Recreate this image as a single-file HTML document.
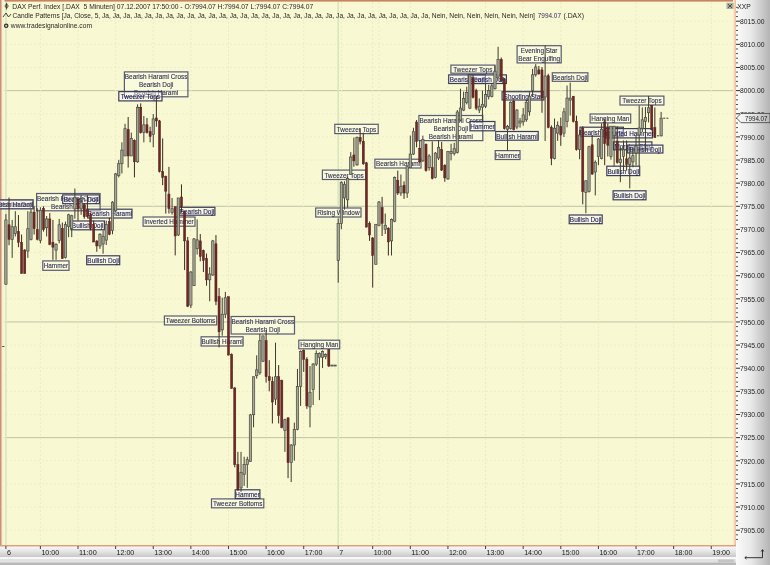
<!DOCTYPE html><html><head><meta charset="utf-8"><style>html,body{margin:0;padding:0;width:770px;height:565px;overflow:hidden;background:#fff}svg{display:block;filter:blur(0.35px)}text{font-family:"Liberation Sans",sans-serif}</style></head><body>
<svg width="770" height="565" viewBox="0 0 770 565">
<defs>
<linearGradient id="gr" x1="0" x2="1" y1="0" y2="0"><stop offset="0" stop-color="#fbfbfb"/><stop offset="0.45" stop-color="#e8e8e8"/><stop offset="1" stop-color="#b4b4b4"/></linearGradient>
<linearGradient id="gb" x1="0" x2="0" y1="0" y2="1"><stop offset="0" stop-color="#fafafa"/><stop offset="0.5" stop-color="#e4e4e4"/><stop offset="1" stop-color="#c8c8c8"/></linearGradient>
<linearGradient id="gbor" x1="0" x2="1" y1="0" y2="0"><stop offset="0" stop-color="#fcf0d8"/><stop offset="1" stop-color="#f0b890"/></linearGradient>
<linearGradient id="glb" x1="0" x2="1" y1="0" y2="0"><stop offset="0" stop-color="#fbe2c8"/><stop offset="1" stop-color="#f8f8d2"/></linearGradient>
</defs>
<rect x="0" y="0" width="770" height="565" fill="#d8d8d8"/>
<rect x="736" y="0" width="34" height="546" fill="url(#gr)"/>
<rect x="0" y="546" width="736" height="11" fill="url(#gb)"/>
<rect x="736" y="546" width="34" height="19" fill="url(#gr)"/>
<rect x="0" y="557" width="736" height="2" fill="#f8f8f8"/>
<rect x="0" y="559" width="736" height="3.7" fill="#e2e2e2"/>
<rect x="718" y="559.5" width="16" height="2.8" fill="#c4c4c4"/>
<rect x="0" y="562.7" width="736" height="2.3" fill="#b8b8b8"/>
<rect x="0" y="0" width="736" height="546" fill="#f8f8d2"/>
<line x1="2" x2="733" y1="530.17" y2="530.17" stroke="#efeecb" stroke-width="1" stroke-dasharray="2,2"/>
<line x1="2" x2="733" y1="507.03" y2="507.03" stroke="#efeecb" stroke-width="1" stroke-dasharray="2,2"/>
<line x1="2" x2="733" y1="483.90" y2="483.90" stroke="#efeecb" stroke-width="1" stroke-dasharray="2,2"/>
<line x1="2" x2="733" y1="460.76" y2="460.76" stroke="#efeecb" stroke-width="1" stroke-dasharray="2,2"/>
<rect x="2" y="437.13" width="731" height="1" fill="#c0c4a4"/>
<line x1="2" x2="733" y1="414.49" y2="414.49" stroke="#efeecb" stroke-width="1" stroke-dasharray="2,2"/>
<line x1="2" x2="733" y1="391.36" y2="391.36" stroke="#efeecb" stroke-width="1" stroke-dasharray="2,2"/>
<line x1="2" x2="733" y1="368.22" y2="368.22" stroke="#efeecb" stroke-width="1" stroke-dasharray="2,2"/>
<line x1="2" x2="733" y1="345.09" y2="345.09" stroke="#efeecb" stroke-width="1" stroke-dasharray="2,2"/>
<rect x="2" y="321.45" width="731" height="1" fill="#c0c4a4"/>
<line x1="2" x2="733" y1="298.82" y2="298.82" stroke="#efeecb" stroke-width="1" stroke-dasharray="2,2"/>
<line x1="2" x2="733" y1="275.69" y2="275.69" stroke="#efeecb" stroke-width="1" stroke-dasharray="2,2"/>
<line x1="2" x2="733" y1="252.55" y2="252.55" stroke="#efeecb" stroke-width="1" stroke-dasharray="2,2"/>
<line x1="2" x2="733" y1="229.41" y2="229.41" stroke="#efeecb" stroke-width="1" stroke-dasharray="2,2"/>
<rect x="2" y="205.78" width="731" height="1" fill="#c0c4a4"/>
<line x1="2" x2="733" y1="183.14" y2="183.14" stroke="#efeecb" stroke-width="1" stroke-dasharray="2,2"/>
<line x1="2" x2="733" y1="160.01" y2="160.01" stroke="#efeecb" stroke-width="1" stroke-dasharray="2,2"/>
<line x1="2" x2="733" y1="136.88" y2="136.88" stroke="#efeecb" stroke-width="1" stroke-dasharray="2,2"/>
<line x1="2" x2="733" y1="113.74" y2="113.74" stroke="#efeecb" stroke-width="1" stroke-dasharray="2,2"/>
<rect x="2" y="90.11" width="731" height="1" fill="#c0c4a4"/>
<line x1="2" x2="733" y1="67.47" y2="67.47" stroke="#efeecb" stroke-width="1" stroke-dasharray="2,2"/>
<line x1="2" x2="733" y1="44.33" y2="44.33" stroke="#efeecb" stroke-width="1" stroke-dasharray="2,2"/>
<line x1="2" x2="733" y1="21.20" y2="21.20" stroke="#efeecb" stroke-width="1" stroke-dasharray="2,2"/>
<line x1="40.38" x2="40.38" y1="2" y2="545" stroke="#ecebc4" stroke-width="1" stroke-dasharray="2,2"/>
<line x1="78.00" x2="78.00" y1="2" y2="545" stroke="#ecebc4" stroke-width="1" stroke-dasharray="2,2"/>
<line x1="115.62" x2="115.62" y1="2" y2="545" stroke="#ecebc4" stroke-width="1" stroke-dasharray="2,2"/>
<line x1="153.25" x2="153.25" y1="2" y2="545" stroke="#ecebc4" stroke-width="1" stroke-dasharray="2,2"/>
<line x1="190.86" x2="190.86" y1="2" y2="545" stroke="#ecebc4" stroke-width="1" stroke-dasharray="2,2"/>
<line x1="228.48" x2="228.48" y1="2" y2="545" stroke="#ecebc4" stroke-width="1" stroke-dasharray="2,2"/>
<line x1="266.10" x2="266.10" y1="2" y2="545" stroke="#ecebc4" stroke-width="1" stroke-dasharray="2,2"/>
<line x1="303.72" x2="303.72" y1="2" y2="545" stroke="#ecebc4" stroke-width="1" stroke-dasharray="2,2"/>
<line x1="341.34" x2="341.34" y1="2" y2="545" stroke="#ecebc4" stroke-width="1" stroke-dasharray="2,2"/>
<line x1="378.96" x2="378.96" y1="2" y2="545" stroke="#ecebc4" stroke-width="1" stroke-dasharray="2,2"/>
<line x1="372.69" x2="372.69" y1="2" y2="545" stroke="#ecebc4" stroke-width="1" stroke-dasharray="2,2"/>
<line x1="410.31" x2="410.31" y1="2" y2="545" stroke="#ecebc4" stroke-width="1" stroke-dasharray="2,2"/>
<line x1="447.93" x2="447.93" y1="2" y2="545" stroke="#ecebc4" stroke-width="1" stroke-dasharray="2,2"/>
<line x1="485.55" x2="485.55" y1="2" y2="545" stroke="#ecebc4" stroke-width="1" stroke-dasharray="2,2"/>
<line x1="523.17" x2="523.17" y1="2" y2="545" stroke="#ecebc4" stroke-width="1" stroke-dasharray="2,2"/>
<line x1="560.79" x2="560.79" y1="2" y2="545" stroke="#ecebc4" stroke-width="1" stroke-dasharray="2,2"/>
<line x1="598.41" x2="598.41" y1="2" y2="545" stroke="#ecebc4" stroke-width="1" stroke-dasharray="2,2"/>
<line x1="636.03" x2="636.03" y1="2" y2="545" stroke="#ecebc4" stroke-width="1" stroke-dasharray="2,2"/>
<line x1="673.65" x2="673.65" y1="2" y2="545" stroke="#ecebc4" stroke-width="1" stroke-dasharray="2,2"/>
<line x1="711.27" x2="711.27" y1="2" y2="545" stroke="#ecebc4" stroke-width="1" stroke-dasharray="2,2"/>
<rect x="5.10" y="2" width="1.6" height="543" fill="#dce4c0"/>
<rect x="337.41" y="2" width="1.6" height="543" fill="#dce4c0"/>
<rect x="0" y="0" width="736" height="1.6" fill="#c88462"/>
<rect x="0" y="0" width="4.5" height="546" fill="url(#glb)"/>
<rect x="0" y="0" width="1.5" height="546" fill="#c8927a"/>
<rect x="2" y="346" width="2.5" height="1" fill="#606040"/>
<rect x="733" y="0" width="3" height="546" fill="url(#gbor)"/>
<rect x="0" y="545" width="736" height="1.5" fill="#e0a080"/>
<rect x="-2.90" y="199.90" width="35.90" height="8.80" fill="rgba(246,246,255,0.4)" stroke="#3c3c5c" stroke-width="1.2"/>
<text x="15.05" y="207.10" font-size="7.6" fill="#1c1c50" text-anchor="middle" textLength="34.50" lengthAdjust="spacingAndGlyphs" stroke="#1c1c50" stroke-width="0.12">Bearish Doji</text>
<rect x="-10.80" y="199.90" width="43.80" height="8.80" fill="rgba(255,255,250,0.3)" stroke="#5a5a72" stroke-width="1.2"/>
<text x="11.10" y="207.10" font-size="7.6" fill="#303050" text-anchor="middle" textLength="44.10" lengthAdjust="spacingAndGlyphs" stroke="#303050" stroke-width="0.12">Bearish Harami</text>
<rect x="36.60" y="193.50" width="63.50" height="17.30" fill="rgba(255,255,250,0.3)" stroke="#5a5a72" stroke-width="1.2"/>
<text x="68.35" y="200.83" font-size="7.6" fill="#303050" text-anchor="middle" textLength="62.59" lengthAdjust="spacingAndGlyphs" stroke="#303050" stroke-width="0.12">Bearish Harami Cross</text>
<text x="68.35" y="209.08" font-size="7.6" fill="#303050" text-anchor="middle" textLength="34.50" lengthAdjust="spacingAndGlyphs" stroke="#303050" stroke-width="0.12">Bearish Doji</text>
<rect x="62.70" y="194.90" width="36.70" height="8.80" fill="rgba(246,246,255,0.4)" stroke="#3c3c5c" stroke-width="1.2"/>
<text x="81.05" y="202.10" font-size="7.6" fill="#1c1c50" text-anchor="middle" textLength="34.50" lengthAdjust="spacingAndGlyphs" stroke="#1c1c50" stroke-width="0.12">Bearish Doji</text>
<rect x="87.70" y="209.20" width="44.30" height="8.80" fill="rgba(246,246,255,0.4)" stroke="#3c3c5c" stroke-width="1.2"/>
<text x="109.85" y="216.40" font-size="7.6" fill="#1c1c50" text-anchor="middle" textLength="44.10" lengthAdjust="spacingAndGlyphs" stroke="#1c1c50" stroke-width="0.12">Bearish Harami</text>
<rect x="71.00" y="221.00" width="33.40" height="8.80" fill="rgba(246,246,255,0.4)" stroke="#3c3c5c" stroke-width="1.2"/>
<text x="87.70" y="228.20" font-size="7.6" fill="#1c1c50" text-anchor="middle" textLength="31.66" lengthAdjust="spacingAndGlyphs" stroke="#1c1c50" stroke-width="0.12">Bullish Doji</text>
<rect x="42.80" y="260.90" width="26.20" height="9.40" fill="rgba(255,255,250,0.3)" stroke="#5a5a72" stroke-width="1.2"/>
<text x="55.90" y="268.40" font-size="7.6" fill="#303050" text-anchor="middle" textLength="24.53" lengthAdjust="spacingAndGlyphs" stroke="#303050" stroke-width="0.12">Hammer</text>
<rect x="86.70" y="255.80" width="33.00" height="8.90" fill="rgba(246,246,255,0.4)" stroke="#3c3c5c" stroke-width="1.2"/>
<text x="103.20" y="263.05" font-size="7.6" fill="#1c1c50" text-anchor="middle" textLength="31.66" lengthAdjust="spacingAndGlyphs" stroke="#1c1c50" stroke-width="0.12">Bullish Doji</text>
<rect x="124.40" y="71.90" width="63.50" height="24.90" fill="rgba(255,255,250,0.3)" stroke="#5a5a72" stroke-width="1.2"/>
<text x="156.15" y="79.12" font-size="7.6" fill="#303050" text-anchor="middle" textLength="62.59" lengthAdjust="spacingAndGlyphs" stroke="#303050" stroke-width="0.12">Bearish Harami Cross</text>
<text x="156.15" y="87.15" font-size="7.6" fill="#303050" text-anchor="middle" textLength="34.50" lengthAdjust="spacingAndGlyphs" stroke="#303050" stroke-width="0.12">Bearish Doji</text>
<text x="156.15" y="95.18" font-size="7.6" fill="#303050" text-anchor="middle" textLength="44.10" lengthAdjust="spacingAndGlyphs" stroke="#303050" stroke-width="0.12">Bearish Harami</text>
<rect x="118.80" y="91.60" width="43.20" height="9.30" fill="rgba(246,246,255,0.4)" stroke="#3c3c5c" stroke-width="1.2"/>
<text x="140.40" y="99.05" font-size="7.6" fill="#1c1c50" text-anchor="middle" textLength="39.37" lengthAdjust="spacingAndGlyphs" stroke="#1c1c50" stroke-width="0.12">Tweezer Tops</text>
<rect x="143.10" y="217.00" width="51.90" height="9.20" fill="rgba(255,255,250,0.3)" stroke="#5a5a72" stroke-width="1.2"/>
<text x="169.05" y="224.40" font-size="7.6" fill="#303050" text-anchor="middle" textLength="49.43" lengthAdjust="spacingAndGlyphs" stroke="#303050" stroke-width="0.12">Inverted Hammer</text>
<rect x="179.10" y="207.30" width="35.80" height="7.90" fill="rgba(246,246,255,0.4)" stroke="#3c3c5c" stroke-width="1.2"/>
<text x="197.00" y="214.05" font-size="7.6" fill="#1c1c50" text-anchor="middle" textLength="34.50" lengthAdjust="spacingAndGlyphs" stroke="#1c1c50" stroke-width="0.12">Bearish Doji</text>
<rect x="164.40" y="316.00" width="52.30" height="8.90" fill="rgba(255,255,250,0.3)" stroke="#5a5a72" stroke-width="1.2"/>
<text x="190.55" y="323.25" font-size="7.6" fill="#303050" text-anchor="middle" textLength="49.44" lengthAdjust="spacingAndGlyphs" stroke="#303050" stroke-width="0.12">Tweezer Bottoms</text>
<rect x="201.10" y="336.80" width="42.00" height="9.20" fill="rgba(255,255,250,0.3)" stroke="#5a5a72" stroke-width="1.2"/>
<text x="222.10" y="344.20" font-size="7.6" fill="#303050" text-anchor="middle" textLength="41.26" lengthAdjust="spacingAndGlyphs" stroke="#303050" stroke-width="0.12">Bullish Harami</text>
<rect x="231.10" y="316.50" width="63.40" height="17.50" fill="rgba(255,255,250,0.3)" stroke="#5a5a72" stroke-width="1.2"/>
<text x="262.80" y="323.88" font-size="7.6" fill="#303050" text-anchor="middle" textLength="62.59" lengthAdjust="spacingAndGlyphs" stroke="#303050" stroke-width="0.12">Bearish Harami Cross</text>
<text x="262.80" y="332.23" font-size="7.6" fill="#303050" text-anchor="middle" textLength="34.50" lengthAdjust="spacingAndGlyphs" stroke="#303050" stroke-width="0.12">Bearish Doji</text>
<rect x="298.80" y="340.20" width="40.90" height="8.60" fill="rgba(255,255,250,0.3)" stroke="#5a5a72" stroke-width="1.2"/>
<text x="319.25" y="347.30" font-size="7.6" fill="#303050" text-anchor="middle" textLength="38.07" lengthAdjust="spacingAndGlyphs" stroke="#303050" stroke-width="0.12">Hanging Man</text>
<rect x="211.50" y="498.90" width="52.30" height="8.90" fill="rgba(255,255,250,0.3)" stroke="#5a5a72" stroke-width="1.2"/>
<text x="237.65" y="506.15" font-size="7.6" fill="#303050" text-anchor="middle" textLength="49.44" lengthAdjust="spacingAndGlyphs" stroke="#303050" stroke-width="0.12">Tweezer Bottoms</text>
<rect x="235.20" y="489.80" width="24.70" height="8.70" fill="rgba(246,246,255,0.4)" stroke="#3c3c5c" stroke-width="1.2"/>
<text x="247.55" y="496.95" font-size="7.6" fill="#1c1c50" text-anchor="middle" textLength="24.53" lengthAdjust="spacingAndGlyphs" stroke="#1c1c50" stroke-width="0.12">Hammer</text>
<rect x="334.80" y="124.30" width="43.40" height="9.30" fill="rgba(255,255,250,0.3)" stroke="#5a5a72" stroke-width="1.2"/>
<text x="356.50" y="131.75" font-size="7.6" fill="#303050" text-anchor="middle" textLength="39.37" lengthAdjust="spacingAndGlyphs" stroke="#303050" stroke-width="0.12">Tweezer Tops</text>
<rect x="322.40" y="170.10" width="43.50" height="9.40" fill="rgba(255,255,250,0.3)" stroke="#5a5a72" stroke-width="1.2"/>
<text x="344.15" y="177.60" font-size="7.6" fill="#303050" text-anchor="middle" textLength="39.37" lengthAdjust="spacingAndGlyphs" stroke="#303050" stroke-width="0.12">Tweezer Tops</text>
<rect x="315.70" y="208.00" width="45.30" height="9.00" fill="rgba(255,255,250,0.3)" stroke="#5a5a72" stroke-width="1.2"/>
<text x="338.35" y="215.30" font-size="7.6" fill="#303050" text-anchor="middle" textLength="42.32" lengthAdjust="spacingAndGlyphs" stroke="#303050" stroke-width="0.12">Rising Window</text>
<rect x="374.90" y="159.20" width="46.10" height="8.80" fill="rgba(255,255,250,0.3)" stroke="#5a5a72" stroke-width="1.2"/>
<text x="397.95" y="166.40" font-size="7.6" fill="#303050" text-anchor="middle" textLength="44.10" lengthAdjust="spacingAndGlyphs" stroke="#303050" stroke-width="0.12">Bearish Harami</text>
<rect x="418.90" y="115.50" width="63.90" height="25.10" fill="rgba(255,255,250,0.3)" stroke="#5a5a72" stroke-width="1.2"/>
<text x="450.85" y="122.75" font-size="7.6" fill="#303050" text-anchor="middle" textLength="62.59" lengthAdjust="spacingAndGlyphs" stroke="#303050" stroke-width="0.12">Bearish Harami Cross</text>
<text x="450.85" y="130.85" font-size="7.6" fill="#303050" text-anchor="middle" textLength="34.50" lengthAdjust="spacingAndGlyphs" stroke="#303050" stroke-width="0.12">Bearish Doji</text>
<text x="450.85" y="138.95" font-size="7.6" fill="#303050" text-anchor="middle" textLength="44.10" lengthAdjust="spacingAndGlyphs" stroke="#303050" stroke-width="0.12">Bearish Harami</text>
<rect x="470.00" y="121.50" width="24.90" height="9.30" fill="rgba(246,246,255,0.4)" stroke="#3c3c5c" stroke-width="1.2"/>
<text x="482.45" y="128.95" font-size="7.6" fill="#1c1c50" text-anchor="middle" textLength="24.53" lengthAdjust="spacingAndGlyphs" stroke="#1c1c50" stroke-width="0.12">Hammer</text>
<rect x="450.90" y="65.10" width="44.00" height="8.10" fill="rgba(255,255,250,0.3)" stroke="#5a5a72" stroke-width="1.2"/>
<text x="472.90" y="71.95" font-size="7.6" fill="#303050" text-anchor="middle" textLength="39.37" lengthAdjust="spacingAndGlyphs" stroke="#303050" stroke-width="0.12">Tweezer Tops</text>
<rect x="448.70" y="74.90" width="36.70" height="8.60" fill="rgba(246,246,255,0.4)" stroke="#3c3c5c" stroke-width="1.2"/>
<text x="467.05" y="82.00" font-size="7.6" fill="#1c1c50" text-anchor="middle" textLength="34.50" lengthAdjust="spacingAndGlyphs" stroke="#1c1c50" stroke-width="0.12">Bearish Doji</text>
<rect x="468.20" y="74.90" width="38.20" height="8.60" fill="rgba(246,246,255,0.4)" stroke="#3c3c5c" stroke-width="1.2"/>
<text x="487.30" y="82.00" font-size="7.6" fill="#1c1c50" text-anchor="middle" textLength="34.50" lengthAdjust="spacingAndGlyphs" stroke="#1c1c50" stroke-width="0.12">Bearish Doji</text>
<rect x="517.10" y="45.70" width="44.10" height="17.20" fill="rgba(255,255,250,0.3)" stroke="#5a5a72" stroke-width="1.2"/>
<text x="539.15" y="53.00" font-size="7.6" fill="#303050" text-anchor="middle" textLength="36.64" lengthAdjust="spacingAndGlyphs" stroke="#303050" stroke-width="0.12">Evening Star</text>
<text x="539.15" y="61.20" font-size="7.6" fill="#303050" text-anchor="middle" textLength="41.98" lengthAdjust="spacingAndGlyphs" stroke="#303050" stroke-width="0.12">Bear Engulfing</text>
<rect x="552.30" y="72.80" width="35.60" height="8.50" fill="rgba(255,255,250,0.3)" stroke="#5a5a72" stroke-width="1.2"/>
<text x="570.10" y="79.85" font-size="7.6" fill="#303050" text-anchor="middle" textLength="34.50" lengthAdjust="spacingAndGlyphs" stroke="#303050" stroke-width="0.12">Bearish Doji</text>
<rect x="502.10" y="91.70" width="41.80" height="8.30" fill="rgba(246,246,255,0.4)" stroke="#3c3c5c" stroke-width="1.2"/>
<text x="523.00" y="98.65" font-size="7.6" fill="#1c1c50" text-anchor="middle" textLength="38.78" lengthAdjust="spacingAndGlyphs" stroke="#1c1c50" stroke-width="0.12">Shooting Star</text>
<rect x="495.70" y="131.50" width="42.50" height="8.70" fill="rgba(246,246,255,0.4)" stroke="#3c3c5c" stroke-width="1.2"/>
<text x="516.95" y="138.65" font-size="7.6" fill="#1c1c50" text-anchor="middle" textLength="41.26" lengthAdjust="spacingAndGlyphs" stroke="#1c1c50" stroke-width="0.12">Bullish Harami</text>
<rect x="495.20" y="150.60" width="24.80" height="8.90" fill="rgba(255,255,250,0.3)" stroke="#5a5a72" stroke-width="1.2"/>
<text x="507.60" y="157.85" font-size="7.6" fill="#303050" text-anchor="middle" textLength="24.53" lengthAdjust="spacingAndGlyphs" stroke="#303050" stroke-width="0.12">Hammer</text>
<rect x="620.00" y="96.10" width="43.90" height="8.90" fill="rgba(255,255,250,0.3)" stroke="#5a5a72" stroke-width="1.2"/>
<text x="641.95" y="103.35" font-size="7.6" fill="#303050" text-anchor="middle" textLength="39.37" lengthAdjust="spacingAndGlyphs" stroke="#303050" stroke-width="0.12">Tweezer Tops</text>
<rect x="590.10" y="114.00" width="40.60" height="8.90" fill="rgba(255,255,250,0.3)" stroke="#5a5a72" stroke-width="1.2"/>
<text x="610.40" y="121.25" font-size="7.6" fill="#303050" text-anchor="middle" textLength="38.07" lengthAdjust="spacingAndGlyphs" stroke="#303050" stroke-width="0.12">Hanging Man</text>
<rect x="580.00" y="127.20" width="43.40" height="9.00" fill="rgba(246,246,255,0.4)" stroke="#3c3c5c" stroke-width="1.2"/>
<text x="601.70" y="134.50" font-size="7.6" fill="#1c1c50" text-anchor="middle" textLength="44.10" lengthAdjust="spacingAndGlyphs" stroke="#1c1c50" stroke-width="0.12">Bearish Harami</text>
<rect x="605.60" y="128.60" width="46.80" height="9.30" fill="rgba(246,246,255,0.4)" stroke="#3c3c5c" stroke-width="1.2"/>
<text x="629.00" y="136.05" font-size="7.6" fill="#1c1c50" text-anchor="middle" textLength="49.43" lengthAdjust="spacingAndGlyphs" stroke="#1c1c50" stroke-width="0.12">Inverted Hammer</text>
<rect x="613.50" y="141.90" width="38.40" height="7.90" fill="rgba(246,246,255,0.4)" stroke="#3c3c5c" stroke-width="1.2"/>
<text x="632.70" y="148.65" font-size="7.6" fill="#1c1c50" text-anchor="middle" textLength="36.63" lengthAdjust="spacingAndGlyphs" stroke="#1c1c50" stroke-width="0.12">Morning Star</text>
<rect x="627.70" y="145.10" width="35.20" height="7.90" fill="rgba(246,246,255,0.4)" stroke="#3c3c5c" stroke-width="1.2"/>
<text x="645.30" y="151.85" font-size="7.6" fill="#1c1c50" text-anchor="middle" textLength="31.66" lengthAdjust="spacingAndGlyphs" stroke="#1c1c50" stroke-width="0.12">Bullish Doji</text>
<rect x="606.80" y="166.20" width="32.90" height="9.40" fill="rgba(246,246,255,0.4)" stroke="#3c3c5c" stroke-width="1.2"/>
<text x="623.25" y="173.70" font-size="7.6" fill="#1c1c50" text-anchor="middle" textLength="31.66" lengthAdjust="spacingAndGlyphs" stroke="#1c1c50" stroke-width="0.12">Bullish Doji</text>
<rect x="613.10" y="190.80" width="32.90" height="9.00" fill="rgba(246,246,255,0.4)" stroke="#3c3c5c" stroke-width="1.2"/>
<text x="629.55" y="198.10" font-size="7.6" fill="#1c1c50" text-anchor="middle" textLength="31.66" lengthAdjust="spacingAndGlyphs" stroke="#1c1c50" stroke-width="0.12">Bullish Doji</text>
<rect x="569.20" y="215.00" width="33.00" height="8.70" fill="rgba(246,246,255,0.4)" stroke="#3c3c5c" stroke-width="1.2"/>
<text x="585.70" y="222.15" font-size="7.6" fill="#1c1c50" text-anchor="middle" textLength="31.66" lengthAdjust="spacingAndGlyphs" stroke="#1c1c50" stroke-width="0.12">Bullish Doji</text>
<rect x="5.40" y="214.07" width="1" height="70.68" fill="#3e3e32"/>
<rect x="4.75" y="219.91" width="2.3" height="64.25" fill="#a6a896" stroke="#4a4a40" stroke-width="0.7"/>
<rect x="8.54" y="197.52" width="1" height="47.70" fill="#3e2a24"/>
<rect x="7.99" y="224.78" width="2.1" height="14.60" fill="#702824" stroke="#52221e" stroke-width="0.5"/>
<rect x="11.67" y="219.91" width="1" height="37.97" fill="#3e3e32"/>
<rect x="11.02" y="226.73" width="2.3" height="12.66" fill="#a6a896" stroke="#4a4a40" stroke-width="0.7"/>
<rect x="14.80" y="211.15" width="1" height="25.31" fill="#3e3e32"/>
<rect x="14.15" y="226.73" width="2.3" height="6.81" fill="#a6a896" stroke="#4a4a40" stroke-width="0.7"/>
<rect x="17.94" y="215.05" width="1" height="32.13" fill="#3e2a24"/>
<rect x="17.39" y="231.60" width="2.1" height="10.71" fill="#702824" stroke="#52221e" stroke-width="0.5"/>
<rect x="21.07" y="234.52" width="1" height="38.94" fill="#3e2a24"/>
<rect x="20.52" y="242.31" width="2.1" height="31.15" fill="#702824" stroke="#52221e" stroke-width="0.5"/>
<rect x="24.21" y="249.12" width="1" height="24.34" fill="#3e2a24"/>
<rect x="23.66" y="250.09" width="2.1" height="23.36" fill="#702824" stroke="#52221e" stroke-width="0.5"/>
<rect x="27.34" y="211.15" width="1" height="46.73" fill="#3e3e32"/>
<rect x="26.70" y="228.68" width="2.3" height="22.39" fill="#a6a896" stroke="#4a4a40" stroke-width="0.7"/>
<rect x="30.48" y="209.21" width="1" height="31.15" fill="#3e3e32"/>
<rect x="29.83" y="212.13" width="2.3" height="27.26" fill="#a6a896" stroke="#4a4a40" stroke-width="0.7"/>
<rect x="33.61" y="206.29" width="1" height="28.23" fill="#3e2a24"/>
<rect x="33.06" y="212.13" width="2.1" height="16.55" fill="#702824" stroke="#52221e" stroke-width="0.5"/>
<rect x="36.75" y="208.23" width="1" height="32.13" fill="#3e2a24"/>
<rect x="36.20" y="229.65" width="2.1" height="9.74" fill="#702824" stroke="#52221e" stroke-width="0.5"/>
<rect x="39.88" y="207.26" width="1" height="36.02" fill="#3e3e32"/>
<rect x="39.23" y="210.18" width="2.3" height="30.18" fill="#a6a896" stroke="#4a4a40" stroke-width="0.7"/>
<rect x="43.02" y="206.29" width="1" height="25.31" fill="#3e2a24"/>
<rect x="42.47" y="208.23" width="2.1" height="21.42" fill="#702824" stroke="#52221e" stroke-width="0.5"/>
<rect x="46.15" y="216.02" width="1" height="20.44" fill="#3e3e32"/>
<rect x="45.50" y="218.94" width="2.3" height="8.76" fill="#a6a896" stroke="#4a4a40" stroke-width="0.7"/>
<rect x="49.29" y="213.10" width="1" height="32.13" fill="#3e2a24"/>
<rect x="48.74" y="218.94" width="2.1" height="25.31" fill="#702824" stroke="#52221e" stroke-width="0.5"/>
<rect x="52.42" y="219.91" width="1" height="39.91" fill="#3e2a24"/>
<rect x="51.88" y="242.31" width="2.1" height="4.87" fill="#702824" stroke="#52221e" stroke-width="0.5"/>
<rect x="55.56" y="243.28" width="1" height="16.55" fill="#3e3e32"/>
<rect x="54.91" y="244.25" width="2.3" height="5.84" fill="#a6a896" stroke="#4a4a40" stroke-width="0.7"/>
<rect x="58.69" y="218.94" width="1" height="24.34" fill="#3e3e32"/>
<rect x="58.04" y="224.78" width="2.3" height="15.58" fill="#a6a896" stroke="#4a4a40" stroke-width="0.7"/>
<rect x="61.83" y="222.57" width="1" height="36.02" fill="#3e2a24"/>
<rect x="61.28" y="228.41" width="2.1" height="30.18" fill="#702824" stroke="#52221e" stroke-width="0.5"/>
<rect x="64.97" y="221.60" width="1" height="36.99" fill="#3e3e32"/>
<rect x="64.31" y="224.52" width="2.3" height="33.10" fill="#a6a896" stroke="#4a4a40" stroke-width="0.7"/>
<rect x="68.10" y="213.81" width="1" height="23.36" fill="#3e3e32"/>
<rect x="67.45" y="214.78" width="2.3" height="11.68" fill="#a6a896" stroke="#4a4a40" stroke-width="0.7"/>
<rect x="71.23" y="214.78" width="1" height="22.39" fill="#3e3e32"/>
<rect x="70.58" y="215.76" width="2.3" height="12.66" fill="#a6a896" stroke="#4a4a40" stroke-width="0.7"/>
<rect x="74.37" y="188.50" width="1" height="30.18" fill="#3e3e32"/>
<rect x="73.72" y="197.26" width="2.3" height="11.68" fill="#a6a896" stroke="#4a4a40" stroke-width="0.7"/>
<rect x="77.50" y="198.23" width="1" height="22.39" fill="#3e2a24"/>
<rect x="76.95" y="199.21" width="2.1" height="9.74" fill="#702824" stroke="#52221e" stroke-width="0.5"/>
<rect x="80.64" y="195.31" width="1" height="19.47" fill="#3e3e32"/>
<rect x="79.99" y="202.13" width="2.3" height="6.81" fill="#a6a896" stroke="#4a4a40" stroke-width="0.7"/>
<rect x="83.78" y="203.10" width="1" height="15.58" fill="#3e2a24"/>
<rect x="83.23" y="205.05" width="2.1" height="11.68" fill="#702824" stroke="#52221e" stroke-width="0.5"/>
<rect x="86.91" y="195.31" width="1" height="21.42" fill="#3e2a24"/>
<rect x="86.36" y="208.94" width="2.1" height="7.79" fill="#702824" stroke="#52221e" stroke-width="0.5"/>
<rect x="90.05" y="212.83" width="1" height="17.52" fill="#3e2a24"/>
<rect x="89.50" y="214.78" width="2.1" height="13.63" fill="#702824" stroke="#52221e" stroke-width="0.5"/>
<rect x="93.18" y="220.62" width="1" height="21.42" fill="#3e2a24"/>
<rect x="92.63" y="224.52" width="2.1" height="17.52" fill="#702824" stroke="#52221e" stroke-width="0.5"/>
<rect x="96.31" y="240.09" width="1" height="11.68" fill="#3e2a24"/>
<rect x="95.77" y="241.07" width="2.1" height="4.87" fill="#702824" stroke="#52221e" stroke-width="0.5"/>
<rect x="99.45" y="233.28" width="1" height="15.58" fill="#3e3e32"/>
<rect x="98.80" y="234.25" width="2.3" height="11.68" fill="#a6a896" stroke="#4a4a40" stroke-width="0.7"/>
<rect x="102.58" y="230.36" width="1" height="23.36" fill="#3e3e32"/>
<rect x="101.93" y="236.20" width="2.3" height="7.79" fill="#a6a896" stroke="#4a4a40" stroke-width="0.7"/>
<rect x="105.72" y="220.62" width="1" height="24.34" fill="#3e3e32"/>
<rect x="105.07" y="224.52" width="2.3" height="15.58" fill="#a6a896" stroke="#4a4a40" stroke-width="0.7"/>
<rect x="108.86" y="217.70" width="1" height="17.52" fill="#3e2a24"/>
<rect x="108.31" y="221.60" width="2.1" height="12.66" fill="#702824" stroke="#52221e" stroke-width="0.5"/>
<rect x="111.99" y="201.15" width="1" height="33.10" fill="#3e3e32"/>
<rect x="111.34" y="202.13" width="2.3" height="28.23" fill="#a6a896" stroke="#4a4a40" stroke-width="0.7"/>
<rect x="115.12" y="172.92" width="1" height="38.94" fill="#3e3e32"/>
<rect x="114.47" y="173.89" width="2.3" height="36.99" fill="#a6a896" stroke="#4a4a40" stroke-width="0.7"/>
<rect x="118.26" y="159.83" width="1" height="17.52" fill="#3e3e32"/>
<rect x="117.61" y="163.72" width="2.3" height="11.68" fill="#a6a896" stroke="#4a4a40" stroke-width="0.7"/>
<rect x="121.39" y="142.31" width="1" height="31.15" fill="#3e3e32"/>
<rect x="120.74" y="150.09" width="2.3" height="13.63" fill="#a6a896" stroke="#4a4a40" stroke-width="0.7"/>
<rect x="124.53" y="123.81" width="1" height="32.13" fill="#3e3e32"/>
<rect x="123.88" y="128.68" width="2.3" height="27.26" fill="#a6a896" stroke="#4a4a40" stroke-width="0.7"/>
<rect x="127.66" y="116.99" width="1" height="50.62" fill="#3e2a24"/>
<rect x="127.11" y="129.65" width="2.1" height="26.29" fill="#702824" stroke="#52221e" stroke-width="0.5"/>
<rect x="130.80" y="132.57" width="1" height="23.36" fill="#3e3e32"/>
<rect x="130.15" y="138.41" width="2.3" height="17.52" fill="#a6a896" stroke="#4a4a40" stroke-width="0.7"/>
<rect x="133.94" y="139.38" width="1" height="37.97" fill="#3e2a24"/>
<rect x="133.38" y="140.36" width="2.1" height="21.42" fill="#702824" stroke="#52221e" stroke-width="0.5"/>
<rect x="137.07" y="104.34" width="1" height="58.41" fill="#3e3e32"/>
<rect x="136.42" y="107.26" width="2.3" height="54.52" fill="#a6a896" stroke="#4a4a40" stroke-width="0.7"/>
<rect x="140.20" y="103.36" width="1" height="30.18" fill="#3e2a24"/>
<rect x="139.65" y="107.26" width="2.1" height="25.31" fill="#702824" stroke="#52221e" stroke-width="0.5"/>
<rect x="143.34" y="116.02" width="1" height="26.29" fill="#3e3e32"/>
<rect x="142.69" y="124.78" width="2.3" height="7.79" fill="#a6a896" stroke="#4a4a40" stroke-width="0.7"/>
<rect x="146.47" y="117.97" width="1" height="15.58" fill="#3e2a24"/>
<rect x="145.92" y="124.78" width="2.1" height="7.79" fill="#702824" stroke="#52221e" stroke-width="0.5"/>
<rect x="149.61" y="126.73" width="1" height="15.58" fill="#3e2a24"/>
<rect x="149.06" y="131.60" width="2.1" height="4.87" fill="#702824" stroke="#52221e" stroke-width="0.5"/>
<rect x="152.75" y="114.07" width="1" height="33.10" fill="#3e3e32"/>
<rect x="152.09" y="118.94" width="2.3" height="15.58" fill="#a6a896" stroke="#4a4a40" stroke-width="0.7"/>
<rect x="155.88" y="96.55" width="1" height="30.18" fill="#3e2a24"/>
<rect x="155.33" y="117.97" width="2.1" height="2.92" fill="#702824" stroke="#52221e" stroke-width="0.5"/>
<rect x="159.01" y="119.91" width="1" height="52.57" fill="#3e2a24"/>
<rect x="158.46" y="120.89" width="2.1" height="50.62" fill="#702824" stroke="#52221e" stroke-width="0.5"/>
<rect x="162.15" y="138.41" width="1" height="46.73" fill="#3e2a24"/>
<rect x="161.60" y="171.51" width="2.1" height="5.84" fill="#702824" stroke="#52221e" stroke-width="0.5"/>
<rect x="165.28" y="175.58" width="1" height="37.97" fill="#3e2a24"/>
<rect x="164.73" y="176.55" width="2.1" height="14.60" fill="#702824" stroke="#52221e" stroke-width="0.5"/>
<rect x="168.42" y="166.81" width="1" height="46.73" fill="#3e2a24"/>
<rect x="167.87" y="194.07" width="2.1" height="14.60" fill="#702824" stroke="#52221e" stroke-width="0.5"/>
<rect x="171.56" y="197.97" width="1" height="16.55" fill="#3e3e32"/>
<rect x="170.91" y="208.68" width="2.3" height="3.89" fill="#a6a896" stroke="#4a4a40" stroke-width="0.7"/>
<rect x="174.69" y="206.73" width="1" height="48.68" fill="#3e2a24"/>
<rect x="174.14" y="206.73" width="2.1" height="29.21" fill="#702824" stroke="#52221e" stroke-width="0.5"/>
<rect x="177.82" y="197.97" width="1" height="37.97" fill="#3e3e32"/>
<rect x="177.17" y="197.97" width="2.3" height="36.99" fill="#a6a896" stroke="#4a4a40" stroke-width="0.7"/>
<rect x="180.96" y="184.34" width="1" height="28.23" fill="#3e2a24"/>
<rect x="180.41" y="196.99" width="2.1" height="9.74" fill="#702824" stroke="#52221e" stroke-width="0.5"/>
<rect x="184.09" y="210.71" width="1" height="59.38" fill="#3e2a24"/>
<rect x="183.54" y="211.68" width="2.1" height="29.21" fill="#702824" stroke="#52221e" stroke-width="0.5"/>
<rect x="187.23" y="236.99" width="1" height="70.09" fill="#3e2a24"/>
<rect x="186.68" y="240.89" width="2.1" height="65.23" fill="#702824" stroke="#52221e" stroke-width="0.5"/>
<rect x="190.36" y="271.07" width="1" height="36.99" fill="#3e3e32"/>
<rect x="189.71" y="272.04" width="2.3" height="33.10" fill="#a6a896" stroke="#4a4a40" stroke-width="0.7"/>
<rect x="193.50" y="237.97" width="1" height="47.70" fill="#3e3e32"/>
<rect x="192.85" y="238.94" width="2.3" height="46.73" fill="#a6a896" stroke="#4a4a40" stroke-width="0.7"/>
<rect x="196.63" y="219.47" width="1" height="35.05" fill="#3e3e32"/>
<rect x="195.98" y="239.91" width="2.3" height="8.76" fill="#a6a896" stroke="#4a4a40" stroke-width="0.7"/>
<rect x="199.77" y="234.07" width="1" height="27.26" fill="#3e2a24"/>
<rect x="199.22" y="240.89" width="2.1" height="15.58" fill="#702824" stroke="#52221e" stroke-width="0.5"/>
<rect x="202.91" y="249.65" width="1" height="22.39" fill="#3e2a24"/>
<rect x="202.35" y="250.62" width="2.1" height="9.74" fill="#702824" stroke="#52221e" stroke-width="0.5"/>
<rect x="206.04" y="253.54" width="1" height="32.13" fill="#3e2a24"/>
<rect x="205.49" y="258.41" width="2.1" height="21.42" fill="#702824" stroke="#52221e" stroke-width="0.5"/>
<rect x="209.17" y="267.17" width="1" height="34.07" fill="#3e3e32"/>
<rect x="208.52" y="273.99" width="2.3" height="5.84" fill="#a6a896" stroke="#4a4a40" stroke-width="0.7"/>
<rect x="212.31" y="239.91" width="1" height="36.02" fill="#3e3e32"/>
<rect x="211.66" y="240.89" width="2.3" height="34.07" fill="#a6a896" stroke="#4a4a40" stroke-width="0.7"/>
<rect x="215.44" y="235.05" width="1" height="70.09" fill="#3e2a24"/>
<rect x="214.89" y="243.81" width="2.1" height="57.44" fill="#702824" stroke="#52221e" stroke-width="0.5"/>
<rect x="218.58" y="287.97" width="1" height="59.38" fill="#3e2a24"/>
<rect x="218.03" y="296.73" width="2.1" height="35.05" fill="#702824" stroke="#52221e" stroke-width="0.5"/>
<rect x="221.72" y="297.70" width="1" height="37.97" fill="#3e3e32"/>
<rect x="221.06" y="314.25" width="2.3" height="15.58" fill="#a6a896" stroke="#4a4a40" stroke-width="0.7"/>
<rect x="224.85" y="291.86" width="1" height="26.29" fill="#3e3e32"/>
<rect x="224.20" y="297.70" width="2.3" height="16.55" fill="#a6a896" stroke="#4a4a40" stroke-width="0.7"/>
<rect x="227.98" y="296.73" width="1" height="58.41" fill="#3e2a24"/>
<rect x="227.43" y="296.73" width="2.1" height="58.41" fill="#702824" stroke="#52221e" stroke-width="0.5"/>
<rect x="231.12" y="353.36" width="1" height="35.05" fill="#3e2a24"/>
<rect x="230.57" y="354.34" width="2.1" height="34.07" fill="#702824" stroke="#52221e" stroke-width="0.5"/>
<rect x="234.25" y="387.05" width="1" height="80.22" fill="#3e2a24"/>
<rect x="233.70" y="388.02" width="2.1" height="76.52" fill="#702824" stroke="#52221e" stroke-width="0.5"/>
<rect x="256.20" y="355.31" width="1" height="23.36" fill="#3e3e32"/>
<rect x="255.55" y="369.91" width="2.3" height="5.84" fill="#a6a896" stroke="#4a4a40" stroke-width="0.7"/>
<rect x="259.33" y="333.89" width="1" height="40.89" fill="#3e3e32"/>
<rect x="258.69" y="340.71" width="2.3" height="32.13" fill="#a6a896" stroke="#4a4a40" stroke-width="0.7"/>
<rect x="262.47" y="335.84" width="1" height="26.29" fill="#3e3e32"/>
<rect x="261.82" y="335.84" width="2.3" height="25.31" fill="#a6a896" stroke="#4a4a40" stroke-width="0.7"/>
<rect x="265.60" y="330.00" width="1" height="52.57" fill="#3e2a24"/>
<rect x="265.05" y="340.71" width="2.1" height="36.02" fill="#702824" stroke="#52221e" stroke-width="0.5"/>
<rect x="268.74" y="360.18" width="1" height="31.15" fill="#3e2a24"/>
<rect x="268.19" y="376.73" width="2.1" height="3.89" fill="#702824" stroke="#52221e" stroke-width="0.5"/>
<rect x="271.87" y="376.73" width="1" height="46.73" fill="#3e2a24"/>
<rect x="271.32" y="381.60" width="2.1" height="20.44" fill="#702824" stroke="#52221e" stroke-width="0.5"/>
<rect x="275.01" y="342.66" width="1" height="62.31" fill="#3e3e32"/>
<rect x="274.36" y="376.73" width="2.3" height="22.39" fill="#a6a896" stroke="#4a4a40" stroke-width="0.7"/>
<rect x="278.14" y="365.05" width="1" height="58.41" fill="#3e2a24"/>
<rect x="277.59" y="376.73" width="2.1" height="38.94" fill="#702824" stroke="#52221e" stroke-width="0.5"/>
<rect x="281.28" y="379.65" width="1" height="48.68" fill="#3e2a24"/>
<rect x="280.73" y="380.62" width="2.1" height="46.73" fill="#702824" stroke="#52221e" stroke-width="0.5"/>
<rect x="237.39" y="451.86" width="1" height="38.94" fill="#3e2a24"/>
<rect x="236.84" y="464.52" width="2.1" height="25.31" fill="#702824" stroke="#52221e" stroke-width="0.5"/>
<rect x="240.52" y="451.86" width="1" height="39.91" fill="#3e3e32"/>
<rect x="239.87" y="472.31" width="2.3" height="15.58" fill="#a6a896" stroke="#4a4a40" stroke-width="0.7"/>
<rect x="243.66" y="456.73" width="1" height="29.21" fill="#3e3e32"/>
<rect x="243.01" y="464.52" width="2.3" height="9.74" fill="#a6a896" stroke="#4a4a40" stroke-width="0.7"/>
<rect x="246.79" y="456.73" width="1" height="31.15" fill="#3e3e32"/>
<rect x="246.14" y="459.65" width="2.3" height="4.87" fill="#a6a896" stroke="#4a4a40" stroke-width="0.7"/>
<rect x="249.93" y="413.89" width="1" height="47.70" fill="#3e3e32"/>
<rect x="249.28" y="414.87" width="2.3" height="46.73" fill="#a6a896" stroke="#4a4a40" stroke-width="0.7"/>
<rect x="284.41" y="418.76" width="1" height="33.10" fill="#3e3e32"/>
<rect x="283.76" y="419.74" width="2.3" height="10.71" fill="#a6a896" stroke="#4a4a40" stroke-width="0.7"/>
<rect x="287.55" y="417.79" width="1" height="60.36" fill="#3e2a24"/>
<rect x="287.00" y="417.79" width="2.1" height="44.78" fill="#702824" stroke="#52221e" stroke-width="0.5"/>
<rect x="290.68" y="444.07" width="1" height="37.97" fill="#3e3e32"/>
<rect x="290.03" y="445.05" width="2.3" height="17.52" fill="#a6a896" stroke="#4a4a40" stroke-width="0.7"/>
<rect x="293.82" y="422.66" width="1" height="37.97" fill="#3e3e32"/>
<rect x="293.17" y="429.47" width="2.3" height="15.58" fill="#a6a896" stroke="#4a4a40" stroke-width="0.7"/>
<rect x="253.06" y="376.73" width="1" height="50.62" fill="#3e3e32"/>
<rect x="252.41" y="376.73" width="2.3" height="37.97" fill="#a6a896" stroke="#4a4a40" stroke-width="0.7"/>
<rect x="296.95" y="368.94" width="1" height="61.33" fill="#3e3e32"/>
<rect x="296.31" y="386.46" width="2.3" height="42.83" fill="#a6a896" stroke="#4a4a40" stroke-width="0.7"/>
<rect x="300.09" y="350.44" width="1" height="55.49" fill="#3e3e32"/>
<rect x="299.44" y="351.42" width="2.3" height="35.05" fill="#a6a896" stroke="#4a4a40" stroke-width="0.7"/>
<rect x="303.22" y="349.47" width="1" height="22.39" fill="#3e2a24"/>
<rect x="302.67" y="350.44" width="2.1" height="8.76" fill="#702824" stroke="#52221e" stroke-width="0.5"/>
<rect x="306.36" y="357.26" width="1" height="51.60" fill="#3e2a24"/>
<rect x="305.81" y="359.21" width="2.1" height="46.73" fill="#702824" stroke="#52221e" stroke-width="0.5"/>
<rect x="309.49" y="366.02" width="1" height="61.33" fill="#3e3e32"/>
<rect x="308.84" y="392.31" width="2.3" height="14.60" fill="#a6a896" stroke="#4a4a40" stroke-width="0.7"/>
<rect x="312.63" y="363.10" width="1" height="41.86" fill="#3e3e32"/>
<rect x="311.98" y="364.07" width="2.3" height="25.31" fill="#a6a896" stroke="#4a4a40" stroke-width="0.7"/>
<rect x="315.76" y="350.44" width="1" height="15.58" fill="#3e3e32"/>
<rect x="315.11" y="353.36" width="2.3" height="10.71" fill="#a6a896" stroke="#4a4a40" stroke-width="0.7"/>
<rect x="318.90" y="352.39" width="1" height="47.70" fill="#3e3e32"/>
<rect x="318.25" y="353.36" width="2.3" height="3.89" fill="#a6a896" stroke="#4a4a40" stroke-width="0.7"/>
<rect x="322.03" y="350.44" width="1" height="17.52" fill="#3e3e32"/>
<rect x="321.38" y="351.42" width="2.3" height="5.84" fill="#a6a896" stroke="#4a4a40" stroke-width="0.7"/>
<rect x="325.17" y="353.36" width="1" height="5.84" fill="#3e3e32"/>
<rect x="324.52" y="354.34" width="2.3" height="1.95" fill="#a6a896" stroke="#4a4a40" stroke-width="0.7"/>
<rect x="328.30" y="349.47" width="1" height="17.52" fill="#3e2a24"/>
<rect x="327.75" y="349.47" width="2.1" height="16.55" fill="#702824" stroke="#52221e" stroke-width="0.5"/>
<rect x="331.44" y="365.05" width="1" height="1.00" fill="#3e3e32"/>
<rect x="330.79" y="365.05" width="2.3" height="1.00" fill="#a6a896" stroke="#4a4a40" stroke-width="0.7"/>
<rect x="334.57" y="365.05" width="1" height="1.00" fill="#3e3e32"/>
<rect x="333.92" y="365.05" width="2.3" height="1.00" fill="#a6a896" stroke="#4a4a40" stroke-width="0.7"/>
<rect x="337.71" y="218.50" width="1" height="64.20" fill="#3e3e32"/>
<rect x="337.06" y="223.40" width="2.3" height="37.00" fill="#a6a896" stroke="#4a4a40" stroke-width="0.7"/>
<rect x="340.84" y="181.30" width="1" height="47.90" fill="#3e3e32"/>
<rect x="340.19" y="182.30" width="2.3" height="41.10" fill="#a6a896" stroke="#4a4a40" stroke-width="0.7"/>
<rect x="343.98" y="181.30" width="1" height="28.30" fill="#3e3e32"/>
<rect x="343.33" y="184.30" width="2.3" height="13.60" fill="#a6a896" stroke="#4a4a40" stroke-width="0.7"/>
<rect x="347.11" y="176.50" width="1" height="31.10" fill="#3e3e32"/>
<rect x="346.46" y="178.40" width="2.3" height="21.40" fill="#a6a896" stroke="#4a4a40" stroke-width="0.7"/>
<rect x="350.25" y="152.10" width="1" height="22.40" fill="#3e3e32"/>
<rect x="349.60" y="157.00" width="2.3" height="17.50" fill="#a6a896" stroke="#4a4a40" stroke-width="0.7"/>
<rect x="353.38" y="137.50" width="1" height="29.20" fill="#3e2a24"/>
<rect x="352.83" y="155.00" width="2.1" height="5.90" fill="#702824" stroke="#52221e" stroke-width="0.5"/>
<rect x="356.52" y="136.50" width="1" height="29.30" fill="#3e3e32"/>
<rect x="355.87" y="137.50" width="2.3" height="27.30" fill="#a6a896" stroke="#4a4a40" stroke-width="0.7"/>
<rect x="359.65" y="128.80" width="1" height="15.50" fill="#3e2a24"/>
<rect x="359.10" y="137.50" width="2.1" height="3.90" fill="#702824" stroke="#52221e" stroke-width="0.5"/>
<rect x="362.79" y="132.70" width="1" height="32.10" fill="#3e2a24"/>
<rect x="362.24" y="141.40" width="2.1" height="22.40" fill="#702824" stroke="#52221e" stroke-width="0.5"/>
<rect x="365.92" y="161.90" width="1" height="65.40" fill="#3e2a24"/>
<rect x="365.37" y="162.80" width="2.1" height="64.30" fill="#702824" stroke="#52221e" stroke-width="0.5"/>
<rect x="369.06" y="221.40" width="1" height="19.50" fill="#3e2a24"/>
<rect x="368.51" y="223.40" width="2.1" height="11.60" fill="#702824" stroke="#52221e" stroke-width="0.5"/>
<rect x="372.19" y="237.00" width="1" height="50.60" fill="#3e2a24"/>
<rect x="371.64" y="238.00" width="2.1" height="17.50" fill="#702824" stroke="#52221e" stroke-width="0.5"/>
<rect x="375.33" y="224.30" width="1" height="40.00" fill="#3e3e32"/>
<rect x="374.68" y="224.30" width="2.3" height="40.00" fill="#a6a896" stroke="#4a4a40" stroke-width="0.7"/>
<rect x="378.46" y="201.00" width="1" height="25.30" fill="#3e3e32"/>
<rect x="377.81" y="202.00" width="2.3" height="23.30" fill="#a6a896" stroke="#4a4a40" stroke-width="0.7"/>
<rect x="381.60" y="196.90" width="1" height="39.10" fill="#3e2a24"/>
<rect x="381.05" y="207.60" width="2.1" height="15.80" fill="#702824" stroke="#52221e" stroke-width="0.5"/>
<rect x="384.73" y="213.60" width="1" height="20.40" fill="#3e3e32"/>
<rect x="384.08" y="225.30" width="2.3" height="3.90" fill="#a6a896" stroke="#4a4a40" stroke-width="0.7"/>
<rect x="387.87" y="227.30" width="1" height="28.20" fill="#3e2a24"/>
<rect x="387.32" y="228.20" width="2.1" height="13.70" fill="#702824" stroke="#52221e" stroke-width="0.5"/>
<rect x="391.00" y="218.50" width="1" height="37.00" fill="#3e3e32"/>
<rect x="390.35" y="219.50" width="2.3" height="21.40" fill="#a6a896" stroke="#4a4a40" stroke-width="0.7"/>
<rect x="394.14" y="176.50" width="1" height="45.70" fill="#3e3e32"/>
<rect x="393.49" y="177.40" width="2.3" height="43.80" fill="#a6a896" stroke="#4a4a40" stroke-width="0.7"/>
<rect x="397.27" y="170.60" width="1" height="24.40" fill="#3e2a24"/>
<rect x="396.72" y="180.40" width="2.1" height="12.60" fill="#702824" stroke="#52221e" stroke-width="0.5"/>
<rect x="400.41" y="174.50" width="1" height="21.40" fill="#3e3e32"/>
<rect x="399.76" y="186.20" width="2.3" height="6.80" fill="#a6a896" stroke="#4a4a40" stroke-width="0.7"/>
<rect x="403.54" y="181.30" width="1" height="17.60" fill="#3e2a24"/>
<rect x="402.99" y="185.20" width="2.1" height="7.80" fill="#702824" stroke="#52221e" stroke-width="0.5"/>
<rect x="406.68" y="165.80" width="1" height="32.10" fill="#3e3e32"/>
<rect x="406.03" y="166.70" width="2.3" height="26.30" fill="#a6a896" stroke="#4a4a40" stroke-width="0.7"/>
<rect x="409.81" y="135.60" width="1" height="32.10" fill="#3e3e32"/>
<rect x="409.16" y="154.10" width="2.3" height="13.60" fill="#a6a896" stroke="#4a4a40" stroke-width="0.7"/>
<rect x="412.95" y="127.80" width="1" height="27.20" fill="#3e3e32"/>
<rect x="412.30" y="131.70" width="2.3" height="22.40" fill="#a6a896" stroke="#4a4a40" stroke-width="0.7"/>
<rect x="416.08" y="120.00" width="1" height="27.30" fill="#3e2a24"/>
<rect x="415.53" y="122.00" width="2.1" height="19.40" fill="#702824" stroke="#52221e" stroke-width="0.5"/>
<rect x="419.22" y="140.40" width="1" height="22.40" fill="#3e2a24"/>
<rect x="418.67" y="148.20" width="2.1" height="13.70" fill="#702824" stroke="#52221e" stroke-width="0.5"/>
<rect x="422.35" y="135.60" width="1" height="26.30" fill="#3e3e32"/>
<rect x="421.70" y="139.50" width="2.3" height="21.40" fill="#a6a896" stroke="#4a4a40" stroke-width="0.7"/>
<rect x="425.49" y="143.40" width="1" height="28.20" fill="#3e2a24"/>
<rect x="424.94" y="144.30" width="2.1" height="26.30" fill="#702824" stroke="#52221e" stroke-width="0.5"/>
<rect x="428.62" y="154.10" width="1" height="16.50" fill="#3e3e32"/>
<rect x="427.97" y="156.00" width="2.3" height="11.70" fill="#a6a896" stroke="#4a4a40" stroke-width="0.7"/>
<rect x="431.76" y="141.40" width="1" height="38.00" fill="#3e2a24"/>
<rect x="431.21" y="167.70" width="2.1" height="10.70" fill="#702824" stroke="#52221e" stroke-width="0.5"/>
<rect x="434.89" y="152.10" width="1" height="26.30" fill="#3e3e32"/>
<rect x="434.24" y="153.10" width="2.3" height="24.30" fill="#a6a896" stroke="#4a4a40" stroke-width="0.7"/>
<rect x="438.03" y="140.40" width="1" height="19.60" fill="#3e3e32"/>
<rect x="437.38" y="147.30" width="2.3" height="10.70" fill="#a6a896" stroke="#4a4a40" stroke-width="0.7"/>
<rect x="441.16" y="141.90" width="1" height="29.10" fill="#3e2a24"/>
<rect x="440.61" y="149.60" width="2.1" height="20.50" fill="#702824" stroke="#52221e" stroke-width="0.5"/>
<rect x="444.30" y="164.30" width="1" height="17.50" fill="#3e2a24"/>
<rect x="443.75" y="165.20" width="2.1" height="12.70" fill="#702824" stroke="#52221e" stroke-width="0.5"/>
<rect x="447.43" y="151.60" width="1" height="28.20" fill="#3e3e32"/>
<rect x="446.78" y="151.60" width="2.3" height="27.30" fill="#a6a896" stroke="#4a4a40" stroke-width="0.7"/>
<rect x="450.57" y="143.80" width="1" height="16.60" fill="#3e3e32"/>
<rect x="449.92" y="151.60" width="2.3" height="1.90" fill="#a6a896" stroke="#4a4a40" stroke-width="0.7"/>
<rect x="453.70" y="142.80" width="1" height="12.70" fill="#3e3e32"/>
<rect x="453.05" y="148.70" width="2.3" height="4.80" fill="#a6a896" stroke="#4a4a40" stroke-width="0.7"/>
<rect x="456.84" y="110.10" width="1" height="43.40" fill="#3e3e32"/>
<rect x="456.19" y="112.00" width="2.3" height="40.60" fill="#a6a896" stroke="#4a4a40" stroke-width="0.7"/>
<rect x="459.97" y="88.70" width="1" height="32.70" fill="#3e3e32"/>
<rect x="459.32" y="108.00" width="2.3" height="12.00" fill="#a6a896" stroke="#4a4a40" stroke-width="0.7"/>
<rect x="463.11" y="91.60" width="1" height="19.50" fill="#3e3e32"/>
<rect x="462.46" y="98.40" width="2.3" height="11.70" fill="#a6a896" stroke="#4a4a40" stroke-width="0.7"/>
<rect x="466.24" y="86.70" width="1" height="17.60" fill="#3e3e32"/>
<rect x="465.59" y="92.60" width="2.3" height="9.70" fill="#a6a896" stroke="#4a4a40" stroke-width="0.7"/>
<rect x="469.38" y="74.10" width="1" height="35.00" fill="#3e3e32"/>
<rect x="468.73" y="75.00" width="2.3" height="33.10" fill="#a6a896" stroke="#4a4a40" stroke-width="0.7"/>
<rect x="472.51" y="75.00" width="1" height="23.40" fill="#3e2a24"/>
<rect x="471.96" y="78.00" width="2.1" height="19.40" fill="#702824" stroke="#52221e" stroke-width="0.5"/>
<rect x="475.65" y="88.70" width="1" height="21.40" fill="#3e2a24"/>
<rect x="475.10" y="90.60" width="2.1" height="17.50" fill="#702824" stroke="#52221e" stroke-width="0.5"/>
<rect x="478.78" y="98.40" width="1" height="14.60" fill="#3e3e32"/>
<rect x="478.13" y="106.20" width="2.3" height="3.90" fill="#a6a896" stroke="#4a4a40" stroke-width="0.7"/>
<rect x="481.92" y="90.60" width="1" height="31.80" fill="#3e3e32"/>
<rect x="481.27" y="104.30" width="2.3" height="2.90" fill="#a6a896" stroke="#4a4a40" stroke-width="0.7"/>
<rect x="485.05" y="83.80" width="1" height="24.30" fill="#3e3e32"/>
<rect x="484.40" y="94.50" width="2.3" height="11.70" fill="#a6a896" stroke="#4a4a40" stroke-width="0.7"/>
<rect x="488.19" y="84.80" width="1" height="14.60" fill="#3e3e32"/>
<rect x="487.54" y="90.60" width="2.3" height="5.90" fill="#a6a896" stroke="#4a4a40" stroke-width="0.7"/>
<rect x="491.32" y="83.80" width="1" height="13.60" fill="#3e3e32"/>
<rect x="490.67" y="85.80" width="2.3" height="10.70" fill="#a6a896" stroke="#4a4a40" stroke-width="0.7"/>
<rect x="494.46" y="65.30" width="1" height="24.30" fill="#3e3e32"/>
<rect x="493.81" y="71.20" width="2.3" height="17.50" fill="#a6a896" stroke="#4a4a40" stroke-width="0.7"/>
<rect x="497.59" y="46.80" width="1" height="32.10" fill="#3e3e32"/>
<rect x="496.94" y="59.50" width="2.3" height="17.50" fill="#a6a896" stroke="#4a4a40" stroke-width="0.7"/>
<rect x="500.73" y="57.50" width="1" height="24.40" fill="#3e2a24"/>
<rect x="500.18" y="59.50" width="2.1" height="21.40" fill="#702824" stroke="#52221e" stroke-width="0.5"/>
<rect x="503.86" y="78.00" width="1" height="51.60" fill="#3e2a24"/>
<rect x="503.31" y="78.90" width="2.1" height="49.70" fill="#702824" stroke="#52221e" stroke-width="0.5"/>
<rect x="507.00" y="125.00" width="1" height="25.60" fill="#3e3e32"/>
<rect x="506.35" y="126.30" width="2.3" height="2.90" fill="#a6a896" stroke="#4a4a40" stroke-width="0.7"/>
<rect x="510.13" y="101.30" width="1" height="28.30" fill="#3e3e32"/>
<rect x="509.48" y="102.30" width="2.3" height="26.30" fill="#a6a896" stroke="#4a4a40" stroke-width="0.7"/>
<rect x="513.27" y="99.40" width="1" height="31.10" fill="#3e2a24"/>
<rect x="512.72" y="101.30" width="2.1" height="28.30" fill="#702824" stroke="#52221e" stroke-width="0.5"/>
<rect x="516.40" y="109.10" width="1" height="20.10" fill="#3e3e32"/>
<rect x="515.75" y="110.10" width="2.3" height="16.90" fill="#a6a896" stroke="#4a4a40" stroke-width="0.7"/>
<rect x="519.54" y="117.90" width="1" height="9.70" fill="#3e3e32"/>
<rect x="518.89" y="121.00" width="2.3" height="2.00" fill="#a6a896" stroke="#4a4a40" stroke-width="0.7"/>
<rect x="522.67" y="108.10" width="1" height="17.60" fill="#3e3e32"/>
<rect x="522.02" y="115.00" width="2.3" height="6.80" fill="#a6a896" stroke="#4a4a40" stroke-width="0.7"/>
<rect x="525.81" y="100.40" width="1" height="21.40" fill="#3e3e32"/>
<rect x="525.16" y="102.30" width="2.3" height="17.50" fill="#a6a896" stroke="#4a4a40" stroke-width="0.7"/>
<rect x="528.94" y="92.30" width="1" height="23.40" fill="#3e3e32"/>
<rect x="528.29" y="96.20" width="2.3" height="15.60" fill="#a6a896" stroke="#4a4a40" stroke-width="0.7"/>
<rect x="532.08" y="68.90" width="1" height="27.30" fill="#3e3e32"/>
<rect x="531.43" y="74.80" width="2.3" height="15.60" fill="#a6a896" stroke="#4a4a40" stroke-width="0.7"/>
<rect x="535.21" y="64.10" width="1" height="12.60" fill="#3e3e32"/>
<rect x="534.56" y="67.00" width="2.3" height="7.80" fill="#a6a896" stroke="#4a4a40" stroke-width="0.7"/>
<rect x="538.35" y="66.00" width="1" height="8.80" fill="#3e2a24"/>
<rect x="537.80" y="69.90" width="2.1" height="3.90" fill="#702824" stroke="#52221e" stroke-width="0.5"/>
<rect x="541.48" y="67.00" width="1" height="45.80" fill="#3e2a24"/>
<rect x="540.93" y="69.90" width="2.1" height="28.20" fill="#702824" stroke="#52221e" stroke-width="0.5"/>
<rect x="544.62" y="45.50" width="1" height="95.50" fill="#3e3e32"/>
<rect x="543.97" y="76.00" width="2.3" height="21.00" fill="#a6a896" stroke="#4a4a40" stroke-width="0.7"/>
<rect x="547.75" y="73.80" width="1" height="54.50" fill="#3e2a24"/>
<rect x="547.21" y="75.80" width="2.1" height="51.60" fill="#702824" stroke="#52221e" stroke-width="0.5"/>
<rect x="550.89" y="125.40" width="1" height="39.80" fill="#3e2a24"/>
<rect x="550.34" y="127.30" width="2.1" height="31.10" fill="#702824" stroke="#52221e" stroke-width="0.5"/>
<rect x="554.02" y="118.50" width="1" height="40.90" fill="#3e3e32"/>
<rect x="553.38" y="128.20" width="2.3" height="30.20" fill="#a6a896" stroke="#4a4a40" stroke-width="0.7"/>
<rect x="557.16" y="121.40" width="1" height="19.50" fill="#3e3e32"/>
<rect x="556.51" y="125.30" width="2.3" height="7.80" fill="#a6a896" stroke="#4a4a40" stroke-width="0.7"/>
<rect x="560.29" y="117.50" width="1" height="28.30" fill="#3e2a24"/>
<rect x="559.75" y="126.30" width="2.1" height="8.70" fill="#702824" stroke="#52221e" stroke-width="0.5"/>
<rect x="563.43" y="107.90" width="1" height="29.10" fill="#3e3e32"/>
<rect x="562.78" y="111.80" width="2.3" height="21.40" fill="#a6a896" stroke="#4a4a40" stroke-width="0.7"/>
<rect x="566.56" y="85.50" width="1" height="41.80" fill="#3e3e32"/>
<rect x="565.91" y="98.10" width="2.3" height="23.40" fill="#a6a896" stroke="#4a4a40" stroke-width="0.7"/>
<rect x="569.70" y="82.60" width="1" height="33.00" fill="#3e3e32"/>
<rect x="569.05" y="98.10" width="2.3" height="2.00" fill="#a6a896" stroke="#4a4a40" stroke-width="0.7"/>
<rect x="572.83" y="96.20" width="1" height="26.30" fill="#3e2a24"/>
<rect x="572.28" y="96.20" width="2.1" height="25.30" fill="#702824" stroke="#52221e" stroke-width="0.5"/>
<rect x="575.97" y="115.60" width="1" height="35.00" fill="#3e2a24"/>
<rect x="575.42" y="121.40" width="2.1" height="28.20" fill="#702824" stroke="#52221e" stroke-width="0.5"/>
<rect x="579.10" y="130.00" width="1" height="29.20" fill="#3e3e32"/>
<rect x="578.45" y="135.00" width="2.3" height="14.60" fill="#a6a896" stroke="#4a4a40" stroke-width="0.7"/>
<rect x="582.24" y="126.30" width="1" height="78.00" fill="#3e2a24"/>
<rect x="581.69" y="128.20" width="2.1" height="63.30" fill="#702824" stroke="#52221e" stroke-width="0.5"/>
<rect x="585.37" y="180.40" width="1" height="32.80" fill="#3e3e32"/>
<rect x="584.72" y="180.80" width="2.3" height="11.70" fill="#a6a896" stroke="#4a4a40" stroke-width="0.7"/>
<rect x="588.51" y="145.80" width="1" height="46.70" fill="#3e3e32"/>
<rect x="587.86" y="146.70" width="2.3" height="44.80" fill="#a6a896" stroke="#4a4a40" stroke-width="0.7"/>
<rect x="591.64" y="135.00" width="1" height="40.00" fill="#3e2a24"/>
<rect x="591.10" y="144.80" width="2.1" height="29.20" fill="#702824" stroke="#52221e" stroke-width="0.5"/>
<rect x="594.78" y="160.40" width="1" height="35.00" fill="#3e3e32"/>
<rect x="594.13" y="162.30" width="2.3" height="9.70" fill="#a6a896" stroke="#4a4a40" stroke-width="0.7"/>
<rect x="597.91" y="138.00" width="1" height="27.20" fill="#3e3e32"/>
<rect x="597.26" y="139.00" width="2.3" height="17.50" fill="#a6a896" stroke="#4a4a40" stroke-width="0.7"/>
<rect x="601.05" y="123.40" width="1" height="36.00" fill="#3e3e32"/>
<rect x="600.40" y="129.20" width="2.3" height="29.20" fill="#a6a896" stroke="#4a4a40" stroke-width="0.7"/>
<rect x="604.18" y="118.50" width="1" height="46.70" fill="#3e2a24"/>
<rect x="603.63" y="122.20" width="2.1" height="21.50" fill="#702824" stroke="#52221e" stroke-width="0.5"/>
<rect x="607.32" y="123.40" width="1" height="33.10" fill="#3e2a24"/>
<rect x="606.77" y="127.80" width="2.1" height="17.50" fill="#702824" stroke="#52221e" stroke-width="0.5"/>
<rect x="610.45" y="126.20" width="1" height="33.40" fill="#3e3e32"/>
<rect x="609.80" y="126.20" width="2.3" height="30.30" fill="#a6a896" stroke="#4a4a40" stroke-width="0.7"/>
<rect x="613.59" y="126.20" width="1" height="39.80" fill="#3e3e32"/>
<rect x="612.94" y="126.20" width="2.3" height="9.50" fill="#a6a896" stroke="#4a4a40" stroke-width="0.7"/>
<rect x="616.72" y="126.20" width="1" height="37.40" fill="#3e2a24"/>
<rect x="616.17" y="141.00" width="2.1" height="21.50" fill="#702824" stroke="#52221e" stroke-width="0.5"/>
<rect x="619.86" y="147.70" width="1" height="34.50" fill="#3e3e32"/>
<rect x="619.21" y="159.20" width="2.3" height="3.50" fill="#a6a896" stroke="#4a4a40" stroke-width="0.7"/>
<rect x="622.99" y="140.50" width="1" height="30.20" fill="#3e3e32"/>
<rect x="622.34" y="149.50" width="2.3" height="7.00" fill="#a6a896" stroke="#4a4a40" stroke-width="0.7"/>
<rect x="626.13" y="140.50" width="1" height="30.20" fill="#3e2a24"/>
<rect x="625.58" y="158.80" width="2.1" height="5.60" fill="#702824" stroke="#52221e" stroke-width="0.5"/>
<rect x="629.26" y="146.90" width="1" height="41.50" fill="#3e3e32"/>
<rect x="628.62" y="158.00" width="2.3" height="6.50" fill="#a6a896" stroke="#4a4a40" stroke-width="0.7"/>
<rect x="632.40" y="147.70" width="1" height="19.50" fill="#3e3e32"/>
<rect x="631.75" y="155.70" width="2.3" height="6.20" fill="#a6a896" stroke="#4a4a40" stroke-width="0.7"/>
<rect x="635.53" y="135.70" width="1" height="29.70" fill="#3e3e32"/>
<rect x="634.88" y="146.00" width="2.3" height="7.00" fill="#a6a896" stroke="#4a4a40" stroke-width="0.7"/>
<rect x="638.67" y="105.50" width="1" height="60.50" fill="#3e3e32"/>
<rect x="638.02" y="128.00" width="2.3" height="7.00" fill="#a6a896" stroke="#4a4a40" stroke-width="0.7"/>
<rect x="641.80" y="107.40" width="1" height="24.80" fill="#3e3e32"/>
<rect x="641.15" y="119.80" width="2.3" height="8.80" fill="#a6a896" stroke="#4a4a40" stroke-width="0.7"/>
<rect x="644.94" y="107.00" width="1" height="44.70" fill="#3e3e32"/>
<rect x="644.29" y="117.40" width="2.3" height="4.00" fill="#a6a896" stroke="#4a4a40" stroke-width="0.7"/>
<rect x="648.07" y="96.00" width="1" height="26.40" fill="#3e3e32"/>
<rect x="647.42" y="107.80" width="2.3" height="4.90" fill="#a6a896" stroke="#4a4a40" stroke-width="0.7"/>
<rect x="651.21" y="105.20" width="1" height="25.20" fill="#3e2a24"/>
<rect x="650.66" y="105.60" width="2.1" height="23.90" fill="#702824" stroke="#52221e" stroke-width="0.5"/>
<rect x="654.34" y="107.40" width="1" height="30.60" fill="#3e2a24"/>
<rect x="653.79" y="127.70" width="2.1" height="9.80" fill="#702824" stroke="#52221e" stroke-width="0.5"/>
<rect x="656.98" y="135.30" width="2" height="1" fill="#404030"/>
<rect x="660.61" y="111.90" width="1" height="24.60" fill="#3e3e32"/>
<rect x="659.96" y="118.20" width="2.3" height="17.60" fill="#a6a896" stroke="#4a4a40" stroke-width="0.7"/>
<rect x="663.25" y="117.70" width="2" height="1" fill="#404030"/>
<rect x="666.38" y="117.70" width="2" height="1" fill="#404030"/>
<text x="12.30" y="8.50" font-size="7.2" fill="#282828" textLength="300.90" lengthAdjust="spacingAndGlyphs" xml:space="preserve">DAX Perf. Index [.DAX  5 Minuten] 07.12.2007 17:50:00 - O:7994.07 H:7994.07 L:7994.07 C:7994.07</text>
<text x="12.50" y="18.30" font-size="7.2" fill="#282828" textLength="417.50" lengthAdjust="spacingAndGlyphs" xml:space="preserve">Candle Patterns [Ja, Close, 5, Ja, Ja, Ja, Ja, Ja, Ja, Ja, Ja, Ja, Ja, Ja, Ja, Ja, Ja, Ja, Ja, Ja, Ja, Ja, Ja, Ja, Ja, Ja, Ja, Ja, Ja, Ja, Ja, Ja, Ja, Ja,</text>
<text x="431.80" y="18.30" font-size="7.2" fill="#282828" textLength="103.20" lengthAdjust="spacingAndGlyphs" xml:space="preserve">Nein, Nein, Nein, Nein, Nein, Nein]</text>
<text x="537.80" y="18.30" font-size="7.2" fill="#30306a" textLength="23.20" lengthAdjust="spacingAndGlyphs" xml:space="preserve">7994.07</text>
<text x="563.50" y="18.30" font-size="7.2" fill="#282828" textLength="20.50" lengthAdjust="spacingAndGlyphs" xml:space="preserve">(.DAX)</text>
<text x="10.80" y="28.40" font-size="7.2" fill="#282828" textLength="81.20" lengthAdjust="spacingAndGlyphs" xml:space="preserve">www.tradesignalonline.com</text>
<path d="M6.6 2.8 L6.6 9.5" stroke="#303030" stroke-width="0.9"/><ellipse cx="6.6" cy="6" rx="1.5" ry="1.6" fill="none" stroke="#303030" stroke-width="0.8"/>
<path d="M3 17 L6 13 L8.5 17 L11 14" fill="none" stroke="#303030" stroke-width="0.9"/>
<circle cx="6.2" cy="25.8" r="2.3" fill="#303030"/><circle cx="6.2" cy="25.8" r="1.1" fill="#c8c8c0"/>
<rect x="726.5" y="2.8" width="7" height="6.2" fill="#a8b0a0"/><path d="M728 4.2 L732 7.8 M732 4.2 L728 7.8" stroke="#404040" stroke-width="0.9"/>
<rect x="736" y="529.67" width="4" height="1" fill="#303030"/>
<text x="740.00" y="532.97" font-size="7.6" fill="#202020" textLength="24.40" lengthAdjust="spacingAndGlyphs" xml:space="preserve">7905.00</text>
<rect x="736" y="506.53" width="4" height="1" fill="#303030"/>
<text x="740.00" y="509.83" font-size="7.6" fill="#202020" textLength="24.40" lengthAdjust="spacingAndGlyphs" xml:space="preserve">7910.00</text>
<rect x="736" y="483.40" width="4" height="1" fill="#303030"/>
<text x="740.00" y="486.70" font-size="7.6" fill="#202020" textLength="24.40" lengthAdjust="spacingAndGlyphs" xml:space="preserve">7915.00</text>
<rect x="736" y="460.26" width="4" height="1" fill="#303030"/>
<text x="740.00" y="463.56" font-size="7.6" fill="#202020" textLength="24.40" lengthAdjust="spacingAndGlyphs" xml:space="preserve">7920.00</text>
<rect x="736" y="437.13" width="4" height="1" fill="#303030"/>
<text x="740.00" y="440.43" font-size="7.6" fill="#202020" textLength="24.40" lengthAdjust="spacingAndGlyphs" xml:space="preserve">7925.00</text>
<rect x="736" y="413.99" width="4" height="1" fill="#303030"/>
<text x="740.00" y="417.29" font-size="7.6" fill="#202020" textLength="24.40" lengthAdjust="spacingAndGlyphs" xml:space="preserve">7930.00</text>
<rect x="736" y="390.86" width="4" height="1" fill="#303030"/>
<text x="740.00" y="394.16" font-size="7.6" fill="#202020" textLength="24.40" lengthAdjust="spacingAndGlyphs" xml:space="preserve">7935.00</text>
<rect x="736" y="367.72" width="4" height="1" fill="#303030"/>
<text x="740.00" y="371.02" font-size="7.6" fill="#202020" textLength="24.40" lengthAdjust="spacingAndGlyphs" xml:space="preserve">7940.00</text>
<rect x="736" y="344.59" width="4" height="1" fill="#303030"/>
<text x="740.00" y="347.89" font-size="7.6" fill="#202020" textLength="24.40" lengthAdjust="spacingAndGlyphs" xml:space="preserve">7945.00</text>
<rect x="736" y="321.45" width="4" height="1" fill="#303030"/>
<text x="740.00" y="324.75" font-size="7.6" fill="#202020" textLength="24.40" lengthAdjust="spacingAndGlyphs" xml:space="preserve">7950.00</text>
<rect x="736" y="298.32" width="4" height="1" fill="#303030"/>
<text x="740.00" y="301.62" font-size="7.6" fill="#202020" textLength="24.40" lengthAdjust="spacingAndGlyphs" xml:space="preserve">7955.00</text>
<rect x="736" y="275.19" width="4" height="1" fill="#303030"/>
<text x="740.00" y="278.49" font-size="7.6" fill="#202020" textLength="24.40" lengthAdjust="spacingAndGlyphs" xml:space="preserve">7960.00</text>
<rect x="736" y="252.05" width="4" height="1" fill="#303030"/>
<text x="740.00" y="255.35" font-size="7.6" fill="#202020" textLength="24.40" lengthAdjust="spacingAndGlyphs" xml:space="preserve">7965.00</text>
<rect x="736" y="228.91" width="4" height="1" fill="#303030"/>
<text x="740.00" y="232.22" font-size="7.6" fill="#202020" textLength="24.40" lengthAdjust="spacingAndGlyphs" xml:space="preserve">7970.00</text>
<rect x="736" y="205.78" width="4" height="1" fill="#303030"/>
<text x="740.00" y="209.08" font-size="7.6" fill="#202020" textLength="24.40" lengthAdjust="spacingAndGlyphs" xml:space="preserve">7975.00</text>
<rect x="736" y="182.64" width="4" height="1" fill="#303030"/>
<text x="740.00" y="185.94" font-size="7.6" fill="#202020" textLength="24.40" lengthAdjust="spacingAndGlyphs" xml:space="preserve">7980.00</text>
<rect x="736" y="159.51" width="4" height="1" fill="#303030"/>
<text x="740.00" y="162.81" font-size="7.6" fill="#202020" textLength="24.40" lengthAdjust="spacingAndGlyphs" xml:space="preserve">7985.00</text>
<rect x="736" y="136.38" width="4" height="1" fill="#303030"/>
<text x="740.00" y="139.68" font-size="7.6" fill="#202020" textLength="24.40" lengthAdjust="spacingAndGlyphs" xml:space="preserve">7990.00</text>
<rect x="736" y="113.24" width="4" height="1" fill="#303030"/>
<text x="740.00" y="116.54" font-size="7.6" fill="#202020" textLength="24.40" lengthAdjust="spacingAndGlyphs" xml:space="preserve">7995.00</text>
<rect x="736" y="90.11" width="4" height="1" fill="#303030"/>
<text x="740.00" y="93.41" font-size="7.6" fill="#202020" textLength="24.40" lengthAdjust="spacingAndGlyphs" xml:space="preserve">8000.00</text>
<rect x="736" y="66.97" width="4" height="1" fill="#303030"/>
<text x="740.00" y="70.27" font-size="7.6" fill="#202020" textLength="24.40" lengthAdjust="spacingAndGlyphs" xml:space="preserve">8005.00</text>
<rect x="736" y="43.83" width="4" height="1" fill="#303030"/>
<text x="740.00" y="47.13" font-size="7.6" fill="#202020" textLength="24.40" lengthAdjust="spacingAndGlyphs" xml:space="preserve">8010.00</text>
<rect x="736" y="20.70" width="4" height="1" fill="#303030"/>
<text x="740.00" y="24.00" font-size="7.6" fill="#202020" textLength="24.40" lengthAdjust="spacingAndGlyphs" xml:space="preserve">8015.00</text>
<rect x="736" y="538.92" width="2" height="1" fill="#505050"/>
<rect x="736" y="534.30" width="2" height="1" fill="#505050"/>
<rect x="736" y="525.04" width="2" height="1" fill="#505050"/>
<rect x="736" y="520.42" width="2" height="1" fill="#505050"/>
<rect x="736" y="515.79" width="2" height="1" fill="#505050"/>
<rect x="736" y="511.16" width="2" height="1" fill="#505050"/>
<rect x="736" y="501.91" width="2" height="1" fill="#505050"/>
<rect x="736" y="497.28" width="2" height="1" fill="#505050"/>
<rect x="736" y="492.65" width="2" height="1" fill="#505050"/>
<rect x="736" y="488.03" width="2" height="1" fill="#505050"/>
<rect x="736" y="478.77" width="2" height="1" fill="#505050"/>
<rect x="736" y="474.15" width="2" height="1" fill="#505050"/>
<rect x="736" y="469.52" width="2" height="1" fill="#505050"/>
<rect x="736" y="464.89" width="2" height="1" fill="#505050"/>
<rect x="736" y="455.64" width="2" height="1" fill="#505050"/>
<rect x="736" y="451.01" width="2" height="1" fill="#505050"/>
<rect x="736" y="446.38" width="2" height="1" fill="#505050"/>
<rect x="736" y="441.76" width="2" height="1" fill="#505050"/>
<rect x="736" y="432.50" width="2" height="1" fill="#505050"/>
<rect x="736" y="427.88" width="2" height="1" fill="#505050"/>
<rect x="736" y="423.25" width="2" height="1" fill="#505050"/>
<rect x="736" y="418.62" width="2" height="1" fill="#505050"/>
<rect x="736" y="409.37" width="2" height="1" fill="#505050"/>
<rect x="736" y="404.74" width="2" height="1" fill="#505050"/>
<rect x="736" y="400.11" width="2" height="1" fill="#505050"/>
<rect x="736" y="395.49" width="2" height="1" fill="#505050"/>
<rect x="736" y="386.23" width="2" height="1" fill="#505050"/>
<rect x="736" y="381.61" width="2" height="1" fill="#505050"/>
<rect x="736" y="376.98" width="2" height="1" fill="#505050"/>
<rect x="736" y="372.35" width="2" height="1" fill="#505050"/>
<rect x="736" y="363.10" width="2" height="1" fill="#505050"/>
<rect x="736" y="358.47" width="2" height="1" fill="#505050"/>
<rect x="736" y="353.84" width="2" height="1" fill="#505050"/>
<rect x="736" y="349.22" width="2" height="1" fill="#505050"/>
<rect x="736" y="339.96" width="2" height="1" fill="#505050"/>
<rect x="736" y="335.34" width="2" height="1" fill="#505050"/>
<rect x="736" y="330.71" width="2" height="1" fill="#505050"/>
<rect x="736" y="326.08" width="2" height="1" fill="#505050"/>
<rect x="736" y="316.83" width="2" height="1" fill="#505050"/>
<rect x="736" y="312.20" width="2" height="1" fill="#505050"/>
<rect x="736" y="307.57" width="2" height="1" fill="#505050"/>
<rect x="736" y="302.95" width="2" height="1" fill="#505050"/>
<rect x="736" y="293.69" width="2" height="1" fill="#505050"/>
<rect x="736" y="289.07" width="2" height="1" fill="#505050"/>
<rect x="736" y="284.44" width="2" height="1" fill="#505050"/>
<rect x="736" y="279.81" width="2" height="1" fill="#505050"/>
<rect x="736" y="270.56" width="2" height="1" fill="#505050"/>
<rect x="736" y="265.93" width="2" height="1" fill="#505050"/>
<rect x="736" y="261.30" width="2" height="1" fill="#505050"/>
<rect x="736" y="256.68" width="2" height="1" fill="#505050"/>
<rect x="736" y="247.42" width="2" height="1" fill="#505050"/>
<rect x="736" y="242.80" width="2" height="1" fill="#505050"/>
<rect x="736" y="238.17" width="2" height="1" fill="#505050"/>
<rect x="736" y="233.54" width="2" height="1" fill="#505050"/>
<rect x="736" y="224.29" width="2" height="1" fill="#505050"/>
<rect x="736" y="219.66" width="2" height="1" fill="#505050"/>
<rect x="736" y="215.03" width="2" height="1" fill="#505050"/>
<rect x="736" y="210.41" width="2" height="1" fill="#505050"/>
<rect x="736" y="201.15" width="2" height="1" fill="#505050"/>
<rect x="736" y="196.53" width="2" height="1" fill="#505050"/>
<rect x="736" y="191.90" width="2" height="1" fill="#505050"/>
<rect x="736" y="187.27" width="2" height="1" fill="#505050"/>
<rect x="736" y="178.02" width="2" height="1" fill="#505050"/>
<rect x="736" y="173.39" width="2" height="1" fill="#505050"/>
<rect x="736" y="168.76" width="2" height="1" fill="#505050"/>
<rect x="736" y="164.14" width="2" height="1" fill="#505050"/>
<rect x="736" y="154.88" width="2" height="1" fill="#505050"/>
<rect x="736" y="150.26" width="2" height="1" fill="#505050"/>
<rect x="736" y="145.63" width="2" height="1" fill="#505050"/>
<rect x="736" y="141.00" width="2" height="1" fill="#505050"/>
<rect x="736" y="131.75" width="2" height="1" fill="#505050"/>
<rect x="736" y="127.12" width="2" height="1" fill="#505050"/>
<rect x="736" y="122.49" width="2" height="1" fill="#505050"/>
<rect x="736" y="117.87" width="2" height="1" fill="#505050"/>
<rect x="736" y="108.61" width="2" height="1" fill="#505050"/>
<rect x="736" y="103.99" width="2" height="1" fill="#505050"/>
<rect x="736" y="99.36" width="2" height="1" fill="#505050"/>
<rect x="736" y="94.73" width="2" height="1" fill="#505050"/>
<rect x="736" y="85.48" width="2" height="1" fill="#505050"/>
<rect x="736" y="80.85" width="2" height="1" fill="#505050"/>
<rect x="736" y="76.22" width="2" height="1" fill="#505050"/>
<rect x="736" y="71.60" width="2" height="1" fill="#505050"/>
<rect x="736" y="62.34" width="2" height="1" fill="#505050"/>
<rect x="736" y="57.72" width="2" height="1" fill="#505050"/>
<rect x="736" y="53.09" width="2" height="1" fill="#505050"/>
<rect x="736" y="48.46" width="2" height="1" fill="#505050"/>
<rect x="736" y="39.21" width="2" height="1" fill="#505050"/>
<rect x="736" y="34.58" width="2" height="1" fill="#505050"/>
<rect x="736" y="29.95" width="2" height="1" fill="#505050"/>
<rect x="736" y="25.33" width="2" height="1" fill="#505050"/>
<rect x="736" y="16.07" width="2" height="1" fill="#505050"/>
<rect x="736" y="11.45" width="2" height="1" fill="#505050"/>
<rect x="736" y="6.82" width="2" height="1" fill="#505050"/>
<text x="737.30" y="8.80" font-size="7.8" fill="#202020" textLength="13.40" lengthAdjust="spacingAndGlyphs" xml:space="preserve">XXP</text>
<path d="M736.5 118.04 L741 113.44 L770 113.44 L770 122.64 L741 122.64 Z" fill="url(#gr)" stroke="#404040" stroke-width="0.8"/>
<text x="745.00" y="120.64" font-size="7.2" fill="#202020" textLength="22.50" lengthAdjust="spacingAndGlyphs" xml:space="preserve">7994.07</text>
<rect x="5.40" y="546" width="1" height="3" fill="#404040"/>
<text x="6.90" y="555.20" font-size="7.8" fill="#202020" textLength="4.00" lengthAdjust="spacingAndGlyphs" xml:space="preserve">6</text>
<rect x="39.88" y="546" width="1" height="3" fill="#404040"/>
<text x="41.38" y="555.20" font-size="7.8" fill="#202020" textLength="17.70" lengthAdjust="spacingAndGlyphs" xml:space="preserve">10:00</text>
<rect x="77.50" y="546" width="1" height="3" fill="#404040"/>
<text x="79.00" y="555.20" font-size="7.8" fill="#202020" textLength="17.70" lengthAdjust="spacingAndGlyphs" xml:space="preserve">11:00</text>
<rect x="115.12" y="546" width="1" height="3" fill="#404040"/>
<text x="116.62" y="555.20" font-size="7.8" fill="#202020" textLength="17.70" lengthAdjust="spacingAndGlyphs" xml:space="preserve">12:00</text>
<rect x="152.75" y="546" width="1" height="3" fill="#404040"/>
<text x="154.25" y="555.20" font-size="7.8" fill="#202020" textLength="17.70" lengthAdjust="spacingAndGlyphs" xml:space="preserve">13:00</text>
<rect x="190.36" y="546" width="1" height="3" fill="#404040"/>
<text x="191.86" y="555.20" font-size="7.8" fill="#202020" textLength="17.70" lengthAdjust="spacingAndGlyphs" xml:space="preserve">14:00</text>
<rect x="227.98" y="546" width="1" height="3" fill="#404040"/>
<text x="229.48" y="555.20" font-size="7.8" fill="#202020" textLength="17.70" lengthAdjust="spacingAndGlyphs" xml:space="preserve">15:00</text>
<rect x="265.60" y="546" width="1" height="3" fill="#404040"/>
<text x="267.10" y="555.20" font-size="7.8" fill="#202020" textLength="17.70" lengthAdjust="spacingAndGlyphs" xml:space="preserve">16:00</text>
<rect x="303.22" y="546" width="1" height="3" fill="#404040"/>
<text x="304.72" y="555.20" font-size="7.8" fill="#202020" textLength="17.70" lengthAdjust="spacingAndGlyphs" xml:space="preserve">17:00</text>
<rect x="337.71" y="546" width="1" height="3" fill="#404040"/>
<text x="339.21" y="555.20" font-size="7.8" fill="#202020" textLength="4.00" lengthAdjust="spacingAndGlyphs" xml:space="preserve">7</text>
<rect x="372.19" y="546" width="1" height="3" fill="#404040"/>
<text x="373.69" y="555.20" font-size="7.8" fill="#202020" textLength="17.70" lengthAdjust="spacingAndGlyphs" xml:space="preserve">10:00</text>
<rect x="409.81" y="546" width="1" height="3" fill="#404040"/>
<text x="411.31" y="555.20" font-size="7.8" fill="#202020" textLength="17.70" lengthAdjust="spacingAndGlyphs" xml:space="preserve">11:00</text>
<rect x="447.43" y="546" width="1" height="3" fill="#404040"/>
<text x="448.93" y="555.20" font-size="7.8" fill="#202020" textLength="17.70" lengthAdjust="spacingAndGlyphs" xml:space="preserve">12:00</text>
<rect x="485.05" y="546" width="1" height="3" fill="#404040"/>
<text x="486.55" y="555.20" font-size="7.8" fill="#202020" textLength="17.70" lengthAdjust="spacingAndGlyphs" xml:space="preserve">13:00</text>
<rect x="522.67" y="546" width="1" height="3" fill="#404040"/>
<text x="524.17" y="555.20" font-size="7.8" fill="#202020" textLength="17.70" lengthAdjust="spacingAndGlyphs" xml:space="preserve">14:00</text>
<rect x="560.29" y="546" width="1" height="3" fill="#404040"/>
<text x="561.79" y="555.20" font-size="7.8" fill="#202020" textLength="17.70" lengthAdjust="spacingAndGlyphs" xml:space="preserve">15:00</text>
<rect x="597.91" y="546" width="1" height="3" fill="#404040"/>
<text x="599.41" y="555.20" font-size="7.8" fill="#202020" textLength="17.70" lengthAdjust="spacingAndGlyphs" xml:space="preserve">16:00</text>
<rect x="635.53" y="546" width="1" height="3" fill="#404040"/>
<text x="637.03" y="555.20" font-size="7.8" fill="#202020" textLength="17.70" lengthAdjust="spacingAndGlyphs" xml:space="preserve">17:00</text>
<rect x="673.15" y="546" width="1" height="3" fill="#404040"/>
<text x="674.65" y="555.20" font-size="7.8" fill="#202020" textLength="17.70" lengthAdjust="spacingAndGlyphs" xml:space="preserve">18:00</text>
<rect x="710.77" y="546" width="1" height="3" fill="#404040"/>
<text x="712.27" y="555.20" font-size="7.8" fill="#202020" textLength="17.70" lengthAdjust="spacingAndGlyphs" xml:space="preserve">19:00</text>
<path d="M745 557.7 L762.5 557.7 L762.5 550 M761.2 551.5 L762.5 549.6 L763.8 551.5 M746.5 556.4 L744.8 557.7 L746.5 559" fill="none" stroke="#202020" stroke-width="0.9"/>
</svg></body></html>
